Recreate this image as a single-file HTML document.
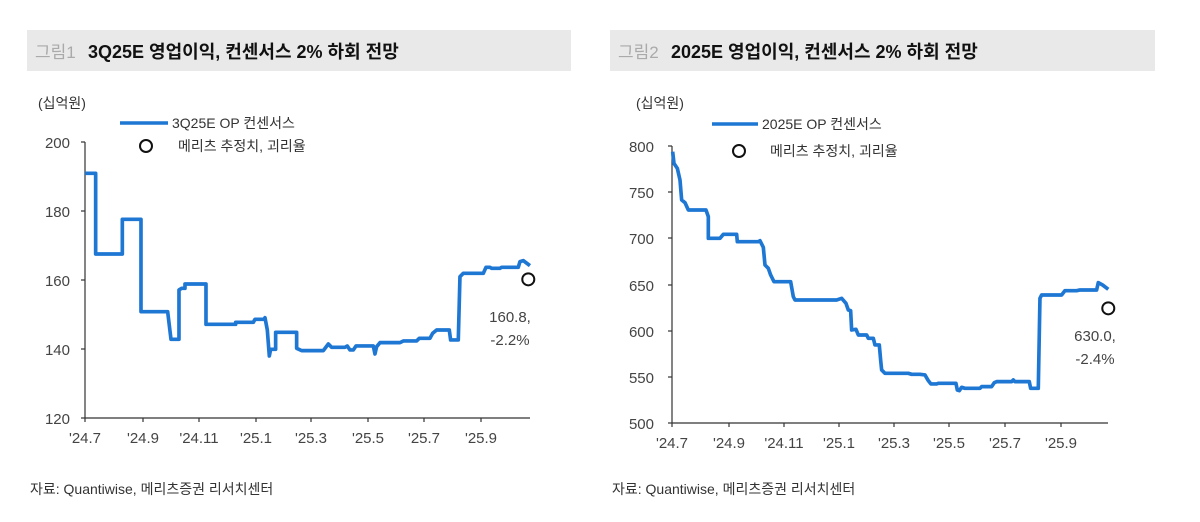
<!DOCTYPE html>
<html><head><meta charset="utf-8"><style>
body{margin:0;background:#fff;width:1200px;height:522px;overflow:hidden;font-family:"Liberation Sans","Noto Sans CJK KR",sans-serif}
svg{position:absolute;left:0;top:0}
</style></head><body>
<svg width="1200" height="522" xmlns="http://www.w3.org/2000/svg" font-family="Liberation Sans, Noto Sans CJK KR, sans-serif">
<rect x="27" y="30" width="544" height="41" fill="#e9e9e9"/>
<rect x="610" y="30" width="545" height="41" fill="#e9e9e9"/>
<text x="35" y="58" font-size="17" fill="#aaa">그림1</text>
<text x="88" y="58" font-size="18" font-weight="bold" fill="#111">3Q25E 영업이익, 컨센서스 2% 하회 전망</text>
<text x="618" y="58" font-size="17" fill="#aaa">그림2</text>
<text x="671" y="58" font-size="18" font-weight="bold" fill="#111">2025E 영업이익, 컨센서스 2% 하회 전망</text>

<g font-size="14" fill="#333">
<text x="38" y="108">(십억원)</text>
<text x="636" y="108">(십억원)</text>
<text x="172" y="128">3Q25E OP 컨센서스</text>
<text x="178" y="151">메리츠 추정치, 괴리율</text>
<text x="762" y="129">2025E OP 컨센서스</text>
<text x="770" y="156">메리츠 추정치, 괴리율</text>
<text x="30" y="494">자료: Quantiwise, 메리츠증권 리서치센터</text>
<text x="612" y="494">자료: Quantiwise, 메리츠증권 리서치센터</text>
</g>
<line x1="120" y1="123" x2="168" y2="123" stroke="#1f77d4" stroke-width="3.5"/>
<circle cx="146" cy="146" r="6" fill="none" stroke="#111" stroke-width="2"/>
<line x1="712" y1="124" x2="758" y2="124" stroke="#1f77d4" stroke-width="3.5"/>
<circle cx="739" cy="151" r="6" fill="none" stroke="#111" stroke-width="2"/>

<!-- left axes -->
<g stroke="#333" stroke-width="1.2">
<line x1="85" y1="142" x2="85" y2="418"/><line x1="85" y1="418" x2="530" y2="418"/>
<line x1="81" y1="142" x2="85" y2="142"/><line x1="81" y1="211" x2="85" y2="211"/><line x1="81" y1="280" x2="85" y2="280"/><line x1="81" y1="349" x2="85" y2="349"/><line x1="81" y1="418" x2="85" y2="418"/>
<line x1="85" y1="418" x2="85" y2="422"/><line x1="143" y1="418" x2="143" y2="422"/><line x1="199" y1="418" x2="199" y2="422"/><line x1="256" y1="418" x2="256" y2="422"/><line x1="311" y1="418" x2="311" y2="422"/><line x1="368" y1="418" x2="368" y2="422"/><line x1="424" y1="418" x2="424" y2="422"/><line x1="481" y1="418" x2="481" y2="422"/>
</g>
<g font-size="15" fill="#444" text-anchor="end">
<text x="70" y="148">200</text><text x="70" y="217">180</text><text x="70" y="286">160</text><text x="70" y="355">140</text><text x="70" y="424">120</text>
</g>
<g font-size="15" fill="#444" text-anchor="middle">
<text x="85" y="443">'24.7</text><text x="143" y="443">'24.9</text><text x="199" y="443">'24.11</text><text x="256" y="443">'25.1</text><text x="311" y="443">'25.3</text><text x="368" y="443">'25.5</text><text x="424" y="443">'25.7</text><text x="481" y="443">'25.9</text>
</g>
<g transform="translate(30,130) scale(0.3333)">
<path fill="none" stroke="#1f77d4" stroke-width="11" stroke-linejoin="round" d="M165,130 H197 V372 H277 V268 H333 V545 H413 L423,628 H447 V480 L455,475 H465 V462 H528 V583 H617 V577 H670 L675,568 H702 L705,563 L712,600 L718,678 L722,658 H737 V607 H800 V655 L815,662 H880 L895,642 L905,652 H945 L952,648 L960,660 L970,660 L978,648 H1030 L1035,672 L1040,650 L1050,638 H1110 L1120,633 H1160 L1168,625 H1200 L1208,610 L1220,600 H1258 L1262,630 H1285 L1290,440 L1300,430 H1360 L1368,412 H1380 L1385,415 H1410 L1415,412 H1465 L1470,395 L1480,392 L1500,407"/>
<circle cx="1495" cy="448" r="18" fill="none" stroke="#111" stroke-width="6"/>
</g>
<g font-size="15" fill="#444" text-anchor="middle">
<text x="510" y="322">160.8,</text><text x="510" y="345">-2.2%</text>
</g>

<!-- right axes -->
<g stroke="#333" stroke-width="1.2">
<line x1="672" y1="146" x2="672" y2="423"/><line x1="672" y1="423" x2="1108" y2="423"/>
<line x1="668" y1="146" x2="672" y2="146"/><line x1="668" y1="192" x2="672" y2="192"/><line x1="668" y1="238" x2="672" y2="238"/><line x1="668" y1="285" x2="672" y2="285"/><line x1="668" y1="331" x2="672" y2="331"/><line x1="668" y1="377" x2="672" y2="377"/><line x1="668" y1="423" x2="672" y2="423"/>
<line x1="672" y1="423" x2="672" y2="427"/><line x1="729" y1="423" x2="729" y2="427"/><line x1="784" y1="423" x2="784" y2="427"/><line x1="839" y1="423" x2="839" y2="427"/><line x1="894" y1="423" x2="894" y2="427"/><line x1="949" y1="423" x2="949" y2="427"/><line x1="1005" y1="423" x2="1005" y2="427"/><line x1="1061" y1="423" x2="1061" y2="427"/>
</g>
<g font-size="15" fill="#444" text-anchor="end">
<text x="654" y="152">800</text><text x="654" y="198">750</text><text x="654" y="244">700</text><text x="654" y="291">650</text><text x="654" y="337">600</text><text x="654" y="383">550</text><text x="654" y="429">500</text>
</g>
<g font-size="15" fill="#444" text-anchor="middle">
<text x="672" y="448">'24.7</text><text x="729" y="448">'24.9</text><text x="784" y="448">'24.11</text><text x="839" y="448">'25.1</text><text x="894" y="448">'25.3</text><text x="949" y="448">'25.5</text><text x="1005" y="448">'25.7</text><text x="1061" y="448">'25.9</text>
</g>
<g transform="translate(600,130) scale(0.3333)">
<path fill="none" stroke="#1f77d4" stroke-width="11" stroke-linejoin="round" d="M218,65 L222,100 L232,115 L240,150 L245,210 L255,218 L265,240 H318 L325,260 L325,325 H360 L370,313 H410 L412,335 H475 L480,332 L490,352 L495,405 L505,415 L512,435 L522,455 H572 L580,500 L585,510 H710 L725,505 L738,520 L745,540 L752,542 L755,600 L768,598 L775,615 H800 L805,625 H820 L825,645 H838 L842,690 L845,720 L855,730 H925 L935,733 H960 L975,735 L985,752 L993,762 H1010 L1015,760 H1068 L1072,780 L1078,782 L1085,772 L1095,775 H1140 L1145,770 H1175 L1183,758 L1190,755 H1235 L1240,750 L1245,755 H1288 L1292,775 L1315,775 L1320,505 L1325,495 H1385 L1395,482 H1430 L1440,480 H1490 L1495,458 L1508,465 L1525,478"/>
<circle cx="1525" cy="535" r="18" fill="none" stroke="#111" stroke-width="6"/>
</g>
<g font-size="15" fill="#444" text-anchor="middle">
<text x="1095" y="341">630.0,</text><text x="1095" y="364">-2.4%</text>
</g>
</svg>
</body></html>
